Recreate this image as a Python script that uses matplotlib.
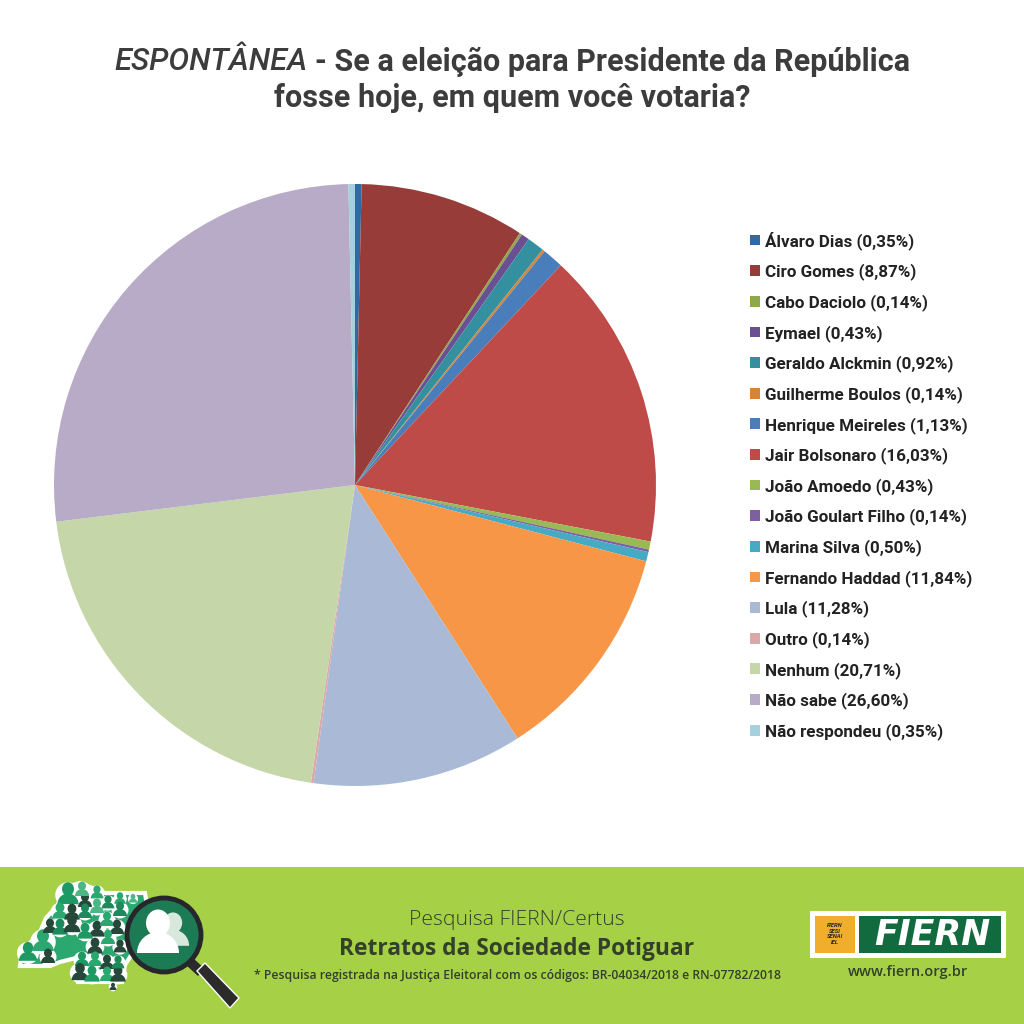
"""
Pie chart of the FIERN/Certus spontaneous vote poll, with footer banner
"""

import matplotlib
matplotlib.use('Agg')
import matplotlib.pyplot as plt
from matplotlib.patches import Circle, Ellipse, Polygon, Rectangle, Wedge

# Poll data
candidates = ['Álvaro Dias', 'Ciro Gomes', 'Cabo Daciolo', 'Eymael', 'Geraldo Alckmin',
              'Guilherme Boulos', 'Henrique Meireles', 'Jair Bolsonaro', 'João Amoedo',
              'João Goulart Filho', 'Marina Silva', 'Fernando Haddad', 'Lula', 'Outro',
              'Nenhum', 'Não sabe', 'Não respondeu']
percentages = [0.35, 8.87, 0.14, 0.43, 0.92, 0.14, 1.13, 16.03, 0.43, 0.14, 0.50,
               11.84, 11.28, 0.14, 20.71, 26.60, 0.35]
slice_colors = ['#2f6aa3', '#983c3a', '#8fa84c', '#6b4f93', '#34909f', '#d98432',
                '#4a7ebb', '#be4b48', '#98b954', '#7d60a0', '#46aac5', '#f79646',
                '#a9b9d6', '#d9a9a8', '#c5d6a9', '#b7abc8', '#a5d0dd']

# Little people in the state map logo: x, y, size, colour
map_people = [(28, 953, 1.3, '#1d9a63'), (43, 942, 1.5, '#2aa86f'), (48, 957, 1.0, '#26483a'),
              (50, 927, 1.0, '#26483a'), (60, 928, 1.1, '#1d8a5c'), (72, 925, 1.2, '#26483a'),
              (68, 895, 1.5, '#1d9a63'), (60, 912, 1.1, '#2aa86f'), (72, 913, 1.1, '#26483a'),
              (85, 901, 1.0, '#26483a'), (82, 890, 1.0, '#4cb784'), (97, 893, 0.9, '#2aa86f'),
              (85, 912, 1.0, '#1d8a5c'), (97, 907, 1.0, '#4cb784'), (97, 930, 1.1, '#26483a'),
              (85, 932, 1.1, '#1d9a63'), (108, 903, 0.9, '#1d8a5c'), (120, 899, 0.8, '#2aa86f'),
              (133, 899, 0.6, '#4cb784'), (107, 920, 1.0, '#2aa86f'), (120, 910, 1.0, '#1d8a5c'),
              (117, 928, 1.0, '#26483a'), (95, 947, 1.1, '#26483a'), (108, 938, 1.0, '#2aa86f'),
              (82, 960, 1.0, '#1d9a63'), (95, 960, 1.0, '#2aa86f'), (107, 963, 1.0, '#26483a'),
              (80, 973, 1.2, '#26483a'), (92, 975, 1.1, '#1d9a63'), (107, 975, 1.0, '#2aa86f'),
              (118, 975, 1.1, '#26483a'), (118, 963, 0.9, '#1d8a5c'), (113, 987, 0.5, '#26483a'),
              (120, 947, 0.9, '#26483a')]
map_outline = [(20, 966), (22, 952), (40, 932), (46, 918), (58, 905), (62, 888), (80, 883),
               (105, 893), (145, 893), (150, 925), (125, 965), (122, 982), (78, 982),
               (76, 958), (60, 962), (50, 966)]

plt.rcParams['font.family'] = ['Roboto', 'DejaVu Sans']

fig = plt.figure(figsize=(10.24, 10.24), dpi=100, facecolor='white')

# Overlay axes in image pixels, for title, footer and logos
canvas = fig.add_axes([0, 0, 1, 1])
canvas.set_xlim(0, 1024)
canvas.set_ylim(1024, 0)
canvas.axis('off')

title_color = '#3c3c3c'
canvas.text(114, 62, 'ESPONTÂNEA', fontsize=22.3, fontstyle='italic', fontweight='medium',
            color=title_color, ha='left', va='center')
canvas.text(910, 62, '- Se a eleição para Presidente da República', fontsize=22,
            fontweight='bold', color=title_color, ha='right', va='center')
canvas.text(512, 98, 'fosse hoje, em quem você votaria?', fontsize=22,
            fontweight='bold', color=title_color, ha='center', va='center')

# Footer banner
canvas.add_patch(Rectangle((0, 867), 1024, 157, facecolor='#a6d146', edgecolor='none'))
footer_color = '#33402a'
canvas.text(517, 920, 'Pesquisa FIERN/Certus', fontsize=15.2, family='Open Sans',
            fontweight='light', color=footer_color, ha='center', va='center')
canvas.text(517, 949, 'Retratos da Sociedade Potiguar', fontsize=16.4, family='Open Sans',
            fontweight='bold', color=footer_color, ha='center', va='center')
canvas.text(518, 976, '* Pesquisa registrada na Justiça Eleitoral com os códigos: BR-04034/2018 e RN-07782/2018',
            fontsize=8.8, family='Open Sans', fontweight='semibold', color=footer_color,
            ha='center', va='center')


def draw_person(ax, x, y, size, color, zorder=3):
    """Draw one small head and shoulders icon."""
    ax.add_patch(Ellipse((x, y - 4 * size), 8 * size, 9 * size, facecolor=color, edgecolor='none', zorder=zorder))
    ax.add_patch(Wedge((x, y + 6 * size), 7 * size, 180, 360, facecolor=color, edgecolor='none', zorder=zorder))


# Map shape with white border, halo behind the people on its edge
canvas.add_patch(Polygon(map_outline, facecolor='#2aa86f', edgecolor='white', linewidth=3, zorder=2))
for x, y, size, color in map_people:
    canvas.add_patch(Circle((x, y), 8.5 * size, facecolor='white', edgecolor='none', zorder=2.5))
for x, y, size, color in map_people:
    draw_person(canvas, x, y, size, color)

# Magnifying glass
canvas.add_patch(Polygon([(186, 965), (193, 958), (205, 969), (198, 976)],
                         facecolor='#2b2b2b', edgecolor='none', zorder=4))
canvas.add_patch(Polygon([(197, 971), (205, 963), (239, 998), (230, 1008)],
                         facecolor='#2b2b2b', edgecolor='white', linewidth=1, zorder=4))
canvas.add_patch(Circle((164, 935), 37, facecolor='#1c7a55', edgecolor='#26262b', linewidth=3.5, zorder=5))
draw_person(canvas, 173, 932, 2.3, '#d7e9dc', zorder=6)
draw_person(canvas, 158, 935, 3.0, 'white', zorder=7)

# FIERN logo
canvas.add_patch(Rectangle((810, 911), 196, 47, facecolor='white', edgecolor='none'))
canvas.add_patch(Rectangle((815, 916), 40, 37, facecolor='#f0ae2c', edgecolor='none'))
canvas.add_patch(Rectangle((859, 916), 142, 37, facecolor='#126b3f', edgecolor='none'))
canvas.text(932, 935, 'FIERN', fontsize=25, family='DejaVu Sans', fontweight='bold', fontstyle='oblique',
            color='white', ha='center', va='center')
canvas.text(835, 934, 'FIERN\nSESI\nSENAI\nIEL', fontsize=4.2, fontweight='bold', fontstyle='italic',
            color='#2b2b2b', ha='center', va='center', linespacing=1.2)
canvas.text(908, 972, 'www.fiern.org.br', fontsize=10.5, family='Open Sans', fontweight='semibold',
            color=footer_color, ha='center', va='center')

# Pie, centred at pixel (355, 485) with a 301 px radius
center_x, center_y, radius = 355, 485, 301
ax = fig.add_axes([(center_x - radius) / 1024, 1 - (center_y + radius) / 1024,
                   2 * radius / 1024, 2 * radius / 1024])
wedges, _ = ax.pie(percentages, colors=slice_colors, startangle=90, counterclock=False,
                   wedgeprops={'linewidth': 0})
ax.set_xlim(-1, 1)
ax.set_ylim(-1, 1)

legend_labels = [f'{name} ({value:.2f}%)'.replace('.', ',') for name, value in zip(candidates, percentages)]
legend = fig.legend(wedges, legend_labels, loc='upper left', bbox_to_anchor=(750 / 1024, 1 - 231 / 1024),
                    frameon=False, handlelength=0.6, handleheight=0.6, handletextpad=0.27,
                    labelspacing=0.805, borderpad=0, borderaxespad=0,
                    prop={'family': 'Roboto', 'weight': 'bold', 'size': 12.25})
for text in legend.get_texts():
    text.set_color('#222222')

fig.savefig('out.png', dpi=100)
